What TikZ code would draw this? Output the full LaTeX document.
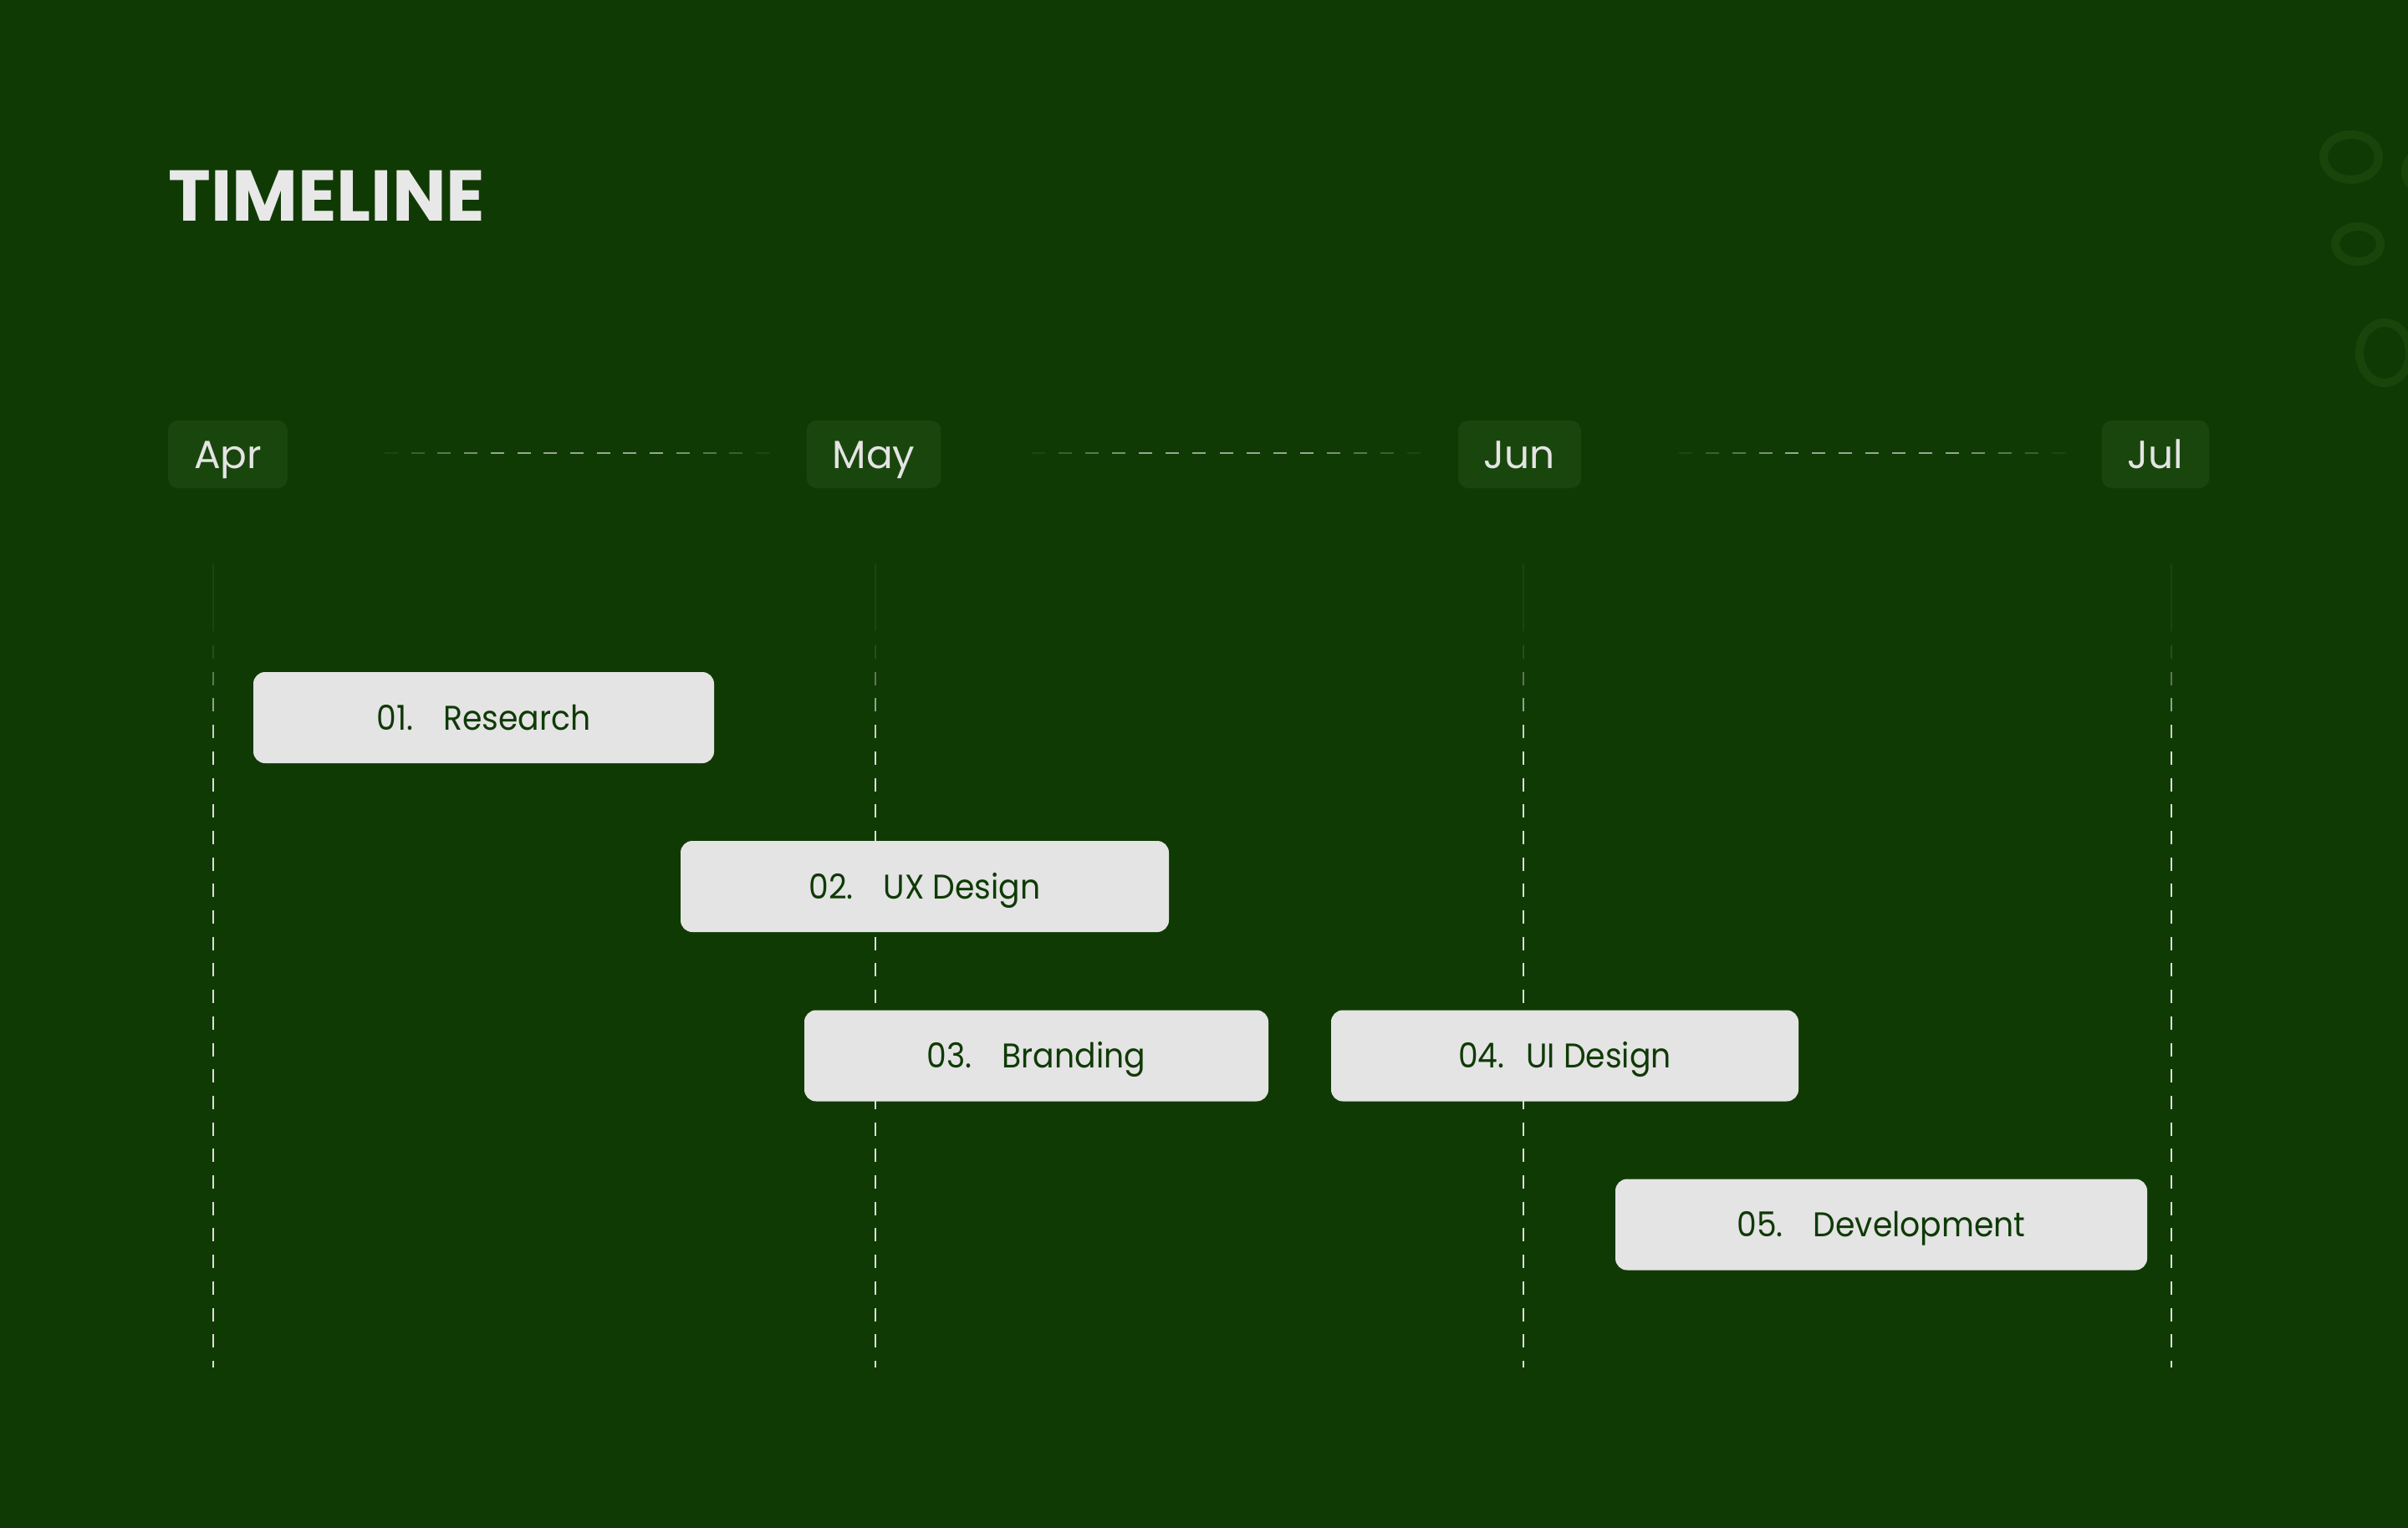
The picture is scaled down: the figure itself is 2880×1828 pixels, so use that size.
\documentclass[tikz,border=0pt]{standalone}
\usepackage{fontspec}
\setmainfont{Poppins}
\newfontfamily\barfont{Poppins}[FakeStretch=0.92]
\definecolor{bg}{RGB}{16,58,4}
\definecolor{boxc}{RGB}{25,70,13}
\definecolor{barc}{RGB}{228,228,228}
\definecolor{bartext}{RGB}{15,58,6}
\definecolor{titlec}{RGB}{232,232,232}
\definecolor{monthc}{RGB}{228,228,228}
\definecolor{hdash}{RGB}{150,166,144}
\definecolor{vdash}{RGB}{220,220,220}
\definecolor{ringc}{RGB}{25,69,10}
\tikzset{
  monthbox/.style={fill=boxc, rounded corners=12pt, minimum height=81pt, inner xsep=31pt,
    text=monthc, font=\fontsize{47}{56}\selectfont, text height=33pt, text depth=0pt},
  taskbar/.style={fill=barc, rounded corners=14pt, minimum height=109pt, inner sep=0pt,
    text=bartext, font=\barfont\fontsize{41}{50}\selectfont, text height=29pt, text depth=0pt},
  ring/.style={draw=ringc, line width=10pt},
  titletext/.style={text=titlec, font=\fontsize{86}{98}\selectfont\bfseries, inner sep=0pt}
}
\begin{document}
\begin{tikzpicture}[x=1pt,y=-1pt]
\useasboundingbox (0,0) rectangle (2880,1828);
\fill[bg] (0,0) rectangle (2880,1828);
% decorative rings
\draw[ring] (2812,188) ellipse [x radius=33, y radius=27];
\draw[ring] (2820,292) ellipse [x radius=27, y radius=21];
\draw[ring] (2852,422) ellipse [x radius=30, y radius=36];
\draw[ring] (2905,205) ellipse [x radius=28, y radius=26];
% title
\node[titletext, anchor=base west] (title) at (201,264) {TIMELINE};
% horizontal dashed guides
\foreach \s/\e in {460/920,1234/1699,2008/2470} {
  \foreach \k in {0,...,14} {
    \pgfmathsetmacro{\xa}{\s+\k*(\e-\s-16)/14}
    \pgfmathsetmacro{\op}{min(1,min(\xa+8-\s,\e-\xa-8)/140+0.05)}
    \draw[hdash, line width=2.5pt, opacity=\op] (\xa,542) -- (\xa+16,542);
  }
}
% month labels
\node[monthbox] (apr) at (272.5,543.5) {Apr};
\node[monthbox] (may) at (1045,543.5) {May};
\node[monthbox] (jun) at (1817.5,543.5) {Jun};
\node[monthbox] (jul) at (2578,543.5) {Jul};
% vertical dashed guides
\foreach \lx in {255,1047,1822,2597} {
  \draw[white, opacity=0.05, line width=2pt] (\lx,675) -- (\lx,755);
  \foreach \k in {0,...,27} {
    \pgfmathsetmacro{\ya}{772+31.7*\k}
    \pgfmathsetmacro{\yb}{min(\ya+16,1636)}
    \pgfmathsetmacro{\op}{min(1,(\ya+8-772)/120+0.05)}
    \draw[vdash, line width=2.2pt, opacity=\op] (\lx,\ya) -- (\lx,\yb);
  }
}
% task bars
\node[taskbar, minimum width=551pt] (t1) at (578.5,858.5) {01.\hspace*{36pt}Research};
\node[taskbar, minimum width=584pt] (t2) at (1106,1060.5) {02.\hspace*{36pt}UX Design};
\node[taskbar, minimum width=555pt] (t3) at (1239.5,1263) {03.\hspace*{36pt}Branding};
\node[taskbar, minimum width=559pt] (t4) at (1871.5,1263) {04.\hspace*{26pt}UI Design};
\node[taskbar, minimum width=636pt] (t5) at (2250,1465) {05.\hspace*{36pt}Development};
\end{tikzpicture}
\end{document}
